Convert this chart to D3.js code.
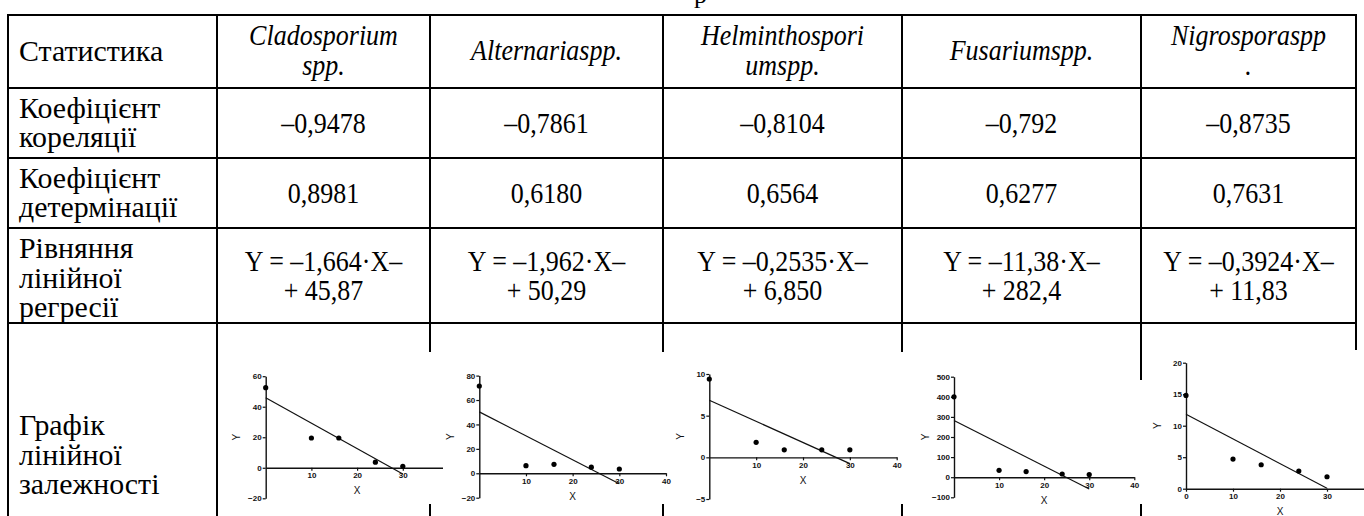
<!doctype html>
<html lang='uk'>
  <head>
    <meta charset='utf-8' />
    <style>
      * { padding: 0; margin: 0; }
      body { background: #fff; }
      svg { display: block; }
      .cell { font-family: "Liberation Serif", serif; fill: #000; }
      .mini .tick text { font-family: 'Liberation Sans', Arial, sans-serif; font-size: 8px; font-weight: bold; fill: #111; }
      .mini .lbl { font-family: 'Liberation Sans', Arial, sans-serif; font-size: 10px; fill: #111; }
    </style>
    <title>Лінійна регресія</title>
  </head>
  <body>
    <div id='container'></div>
    <script src='https://d3js.org/d3.v7.min.js'></script>
    <script type='text/javascript'>

      // table content
      var rowHeads = [['Статистика'], ['Коефіцієнт', 'кореляції'], ['Коефіцієнт', 'детермінації'],
                      ['Рівняння', 'лінійної', 'регресії'], ['Графік', 'лінійної', 'залежності']];
      var species = [['Cladosporium', 'spp.'], ['Alternariaspp.'], ['Helminthospori', 'umspp.'],
                     ['Fusariumspp.'], ['Nigrosporaspp', '.']];
      var correlation = ['–0,9478', '–0,7861', '–0,8104', '–0,792', '–0,8735'];
      var determination = ['0,8981', '0,6180', '0,6564', '0,6277', '0,7631'];
      var slopeText = ['–1,664', '–1,962', '–0,2535', '–11,38', '–0,3924'];
      var interceptText = ['45,87', '50,29', '6,850', '282,4', '11,83'];

      // regression + points
      var slopes = [-1.664, -1.962, -0.2535, -11.38, -0.3924];
      var intercepts = [45.87, 50.29, 6.850, 282.4, 11.83];
      var xValues = [0, 10, 16, 24, 30];
      var cladoY = [52.5, 19.5, 19.5, 3.7, 1.0];
      var alterY = [71.5, 6.2, 7.3, 5.0, 3.5];
      var helmY = [9.4, 1.8, 0.9, 0.9, 0.9];
      var fusY = [400, 34, 28, 16, 13];
      var nigroY = [14.8, 4.7, 3.8, 2.8, 1.9];
      var seriesY = [cladoY, alterY, helmY, fusY, nigroY];

      var xTicks = [10, 20, 30, 40];
      var xTicksZero = [0, 10, 20, 30];
      var yTicks = [[-20, 0, 20, 40, 60], [-20, 0, 20, 40, 60, 80], [-5, 0, 5, 10],
                    [-100, 0, 100, 200, 300, 400, 500], [0, 5, 10, 15, 20]];

      const W = 1364, H = 516;
      var colX = [8, 217, 430, 663, 902, 1141, 1356];
      var rowY = [15, 88, 158, 228, 323, 516];
      var stopY = [516, 516, 352, 352, 352, 380, 350];
      var lh = 29.5;
      var fs = 26, sy = 1.12;

      // mini chart frames (pixel boxes of the pasted plots)
      var frames = [
        {x0: 265.7, x1: 448.5, yb: 498.3, yt: 376.2, clip: [219, 443]},
        {x0: 479.3, x1: 666.0, yb: 497.7, yt: 375.6},
        {x0: 709.3, x1: 896.7, yb: 499.0, yt: 374.0},
        {x0: 954.0, x1: 1134.3, yb: 497.3, yt: 376.7},
        {x0: 1186.0, x1: 1374.0, yb: 488.7, yt: 362.7}
      ];

      var svg = d3.select('#container').append('svg')
          .attr('width', W)
          .attr('height', H);

      svg.append('rect').attr('width', W).attr('height', H).attr('fill', '#fff');

      // cut-off heading above the table
      svg.append('text').attr('class', 'cell').attr('x', 694).attr('y', 3)
        .attr('font-size', fs).text('р');

      // borders
      var grid = svg.append('g').attr('stroke', '#000').attr('stroke-width', 2);
      rowY.slice(0, 5).forEach(function(y) {
        grid.append('line').attr('x1', colX[0] - 1).attr('x2', colX[6] + 1).attr('y1', y).attr('y2', y);
      });
      colX.forEach(function(x, i) {
        grid.append('line').attr('x1', x).attr('x2', x).attr('y1', rowY[0]).attr('y2', stopY[i]);
        if (i >= 2 && i <= 5) {
          grid.append('line').attr('x1', x).attr('x2', x).attr('y1', 504).attr('y2', H);
        }
      });

      function cellText(lines, x, cy, anchor, italic, sx) {
        var n = lines.length;
        lines.forEach(function(t, k) {
          var by = cy + (k - (n - 1) / 2) * lh + fs * 0.33 * sy;
          svg.append('text')
            .attr('class', 'cell')
            .attr('transform', 'translate(' + x + ',' + by + ') scale(' + (sx || 1) + ',' + sy + ')')
            .attr('text-anchor', anchor)
            .attr('font-size', fs)
            .attr('font-style', italic ? 'italic' : 'normal')
            .text(t);
        });
      }

      var rowMid = [51.5, 123, 193, 278, 455];
      rowHeads.forEach(function(lines, r) {
        cellText(lines, colX[0] + 11, rowMid[r], 'start', false, 1.15);
      });

      for (var c = 0; c < 5; c++) {
        var cx = (colX[c + 1] + colX[c + 2]) / 2;
        cellText(species[c], cx, rowMid[0] - 1, 'middle', true);
        cellText([correlation[c]], cx, rowMid[1], 'middle', false);
        cellText([determination[c]], cx, rowMid[2], 'middle', false);
        cellText(['Y = ' + slopeText[c] + '·X–', '+ ' + interceptText[c]], cx, rowMid[3] - 2, 'middle', false);
      }

      // mini regression plots
      frames.forEach(function(f, i) {
        var yt = yTicks[i];
        var x = d3.scaleLinear().domain([0, 40]).range([f.x0, f.x1]);
        var y = d3.scaleLinear().domain([yt[0], yt[yt.length - 1]]).range([f.yb, f.yt]);

        var g = svg.append('g').attr('class', 'mini');
        if (f.clip) {
          svg.append('clipPath').attr('id', 'clip' + i).append('rect')
            .attr('x', f.clip[0]).attr('y', 330).attr('width', f.clip[1] - f.clip[0]).attr('height', 180);
          g.attr('clip-path', 'url(#clip' + i + ')');
        }

        g.append('g')
          .attr('transform', 'translate(' + f.x0 + ',0)')
          .call(d3.axisLeft(y).tickValues(yt).tickSize(3).tickSizeOuter(0).tickPadding(1));
        g.append('g')
          .attr('transform', 'translate(0,' + y(0) + ')')
          .call(d3.axisBottom(x).tickValues(i == 4 ? xTicksZero : xTicks).tickSize(3).tickSizeOuter(0).tickPadding(2));
        g.selectAll('.domain').attr('stroke', '#111').attr('stroke-width', 1.4);
        g.selectAll('.tick line').attr('stroke', '#111').attr('stroke-width', 1.2);

        g.append('text').attr('class', 'lbl')
          .attr('transform', 'translate(' + (f.x0 - 29) + ',' + y((yt[0] + yt[yt.length - 1]) / 2) + ') rotate(-90)')
          .attr('text-anchor', 'middle')
          .attr('dy', '0.35em')
          .text('Y');
        g.append('text').attr('class', 'lbl')
          .attr('x', x(20))
          .attr('y', y(0) + 23)
          .attr('text-anchor', 'middle')
          .attr('dy', '0.35em')
          .text('X');

        g.append('line')
          .attr('x1', x(0)).attr('y1', y(intercepts[i]))
          .attr('x2', x(30)).attr('y2', y(intercepts[i] + slopes[i] * 30))
          .attr('stroke', '#111').attr('stroke-width', 1.2);

        g.selectAll('circle')
          .data(xValues)
          .enter()
          .append('circle')
          .attr('cx', function(d) { return x(d); })
          .attr('cy', function(d, k) { return y(seriesY[i][k]); })
          .attr('r', 2.6)
          .attr('fill', '#000');
      });
    </script>
  </body>
</html>
